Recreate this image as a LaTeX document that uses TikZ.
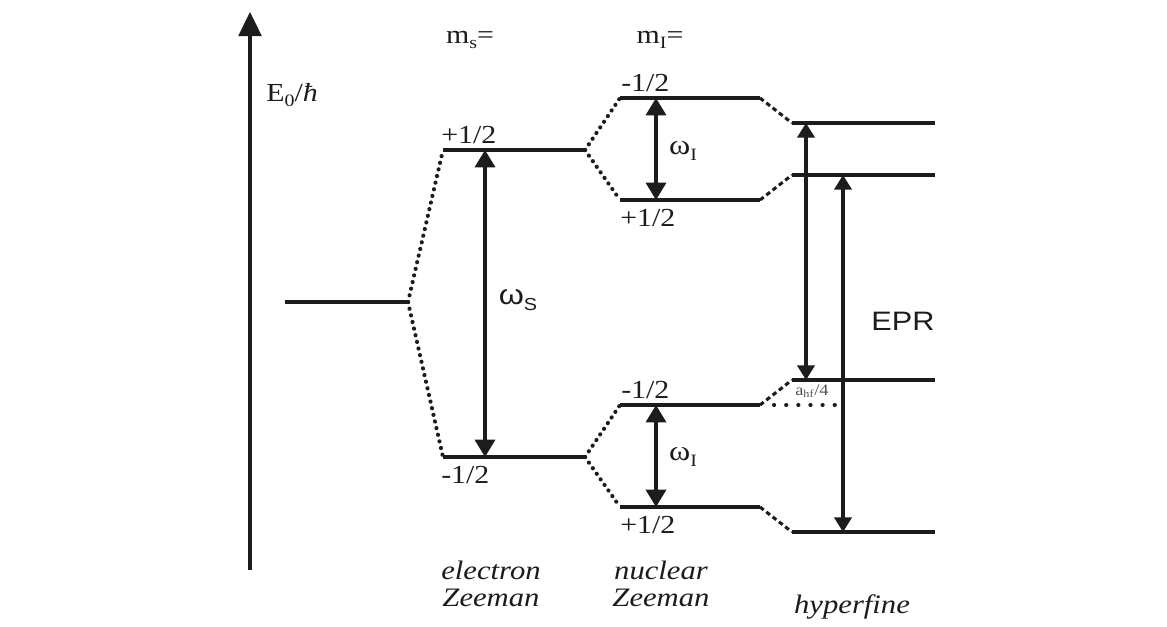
\documentclass[tikz,border=0pt]{standalone}
\usepackage{fontspec}
\setmainfont{Liberation Serif}[FakeStretch=1.15]
\setsansfont{Liberation Sans}[FakeStretch=1.15]
\usepackage{xcolor}
\usepackage{tikz}
\usetikzlibrary{positioning, arrows.meta, calc}
\definecolor{inkblack}{HTML}{1C1C1C}
\definecolor{inkgray}{HTML}{505050}
\newcommand{\lowsub}[1]{\raisebox{-0.45ex}{\fontsize{13}{13}\selectfont #1}}

\tikzset{
  lvl/.style={draw=inkblack, line width=2.6pt},
  hflvl/.style={draw=inkblack, line width=2.3pt},
  split/.style={draw=inkblack, line width=3.1pt, line cap=round, dash pattern=on 0.1pt off 5pt},
  hfsplit/.style={draw=inkblack, line width=2.3pt, dash pattern=on 3.5pt off 2.5pt},
  trans/.style={draw=inkblack, line width=2.6pt,
    {Triangle[length=13pt, width=15pt]}-{Triangle[length=13pt, width=15pt]}},
  hftrans/.style={draw=inkblack, line width=2.3pt,
    {Triangle[length=11pt, width=13pt]}-{Triangle[length=11pt, width=13pt]}},
  axisline/.style={draw=inkblack, line width=2.8pt, -{Triangle[length=18pt, width=17pt]}},
  lbl/.style={text=inkblack, inner sep=0pt, font=\fontsize{19.5}{22}\selectfont},
  stagecap/.style={text=inkblack, inner sep=0pt, align=center, font=\fontsize{20}{20.5}\selectfont\itshape},
}

\begin{document}
\begin{tikzpicture}[x=0.75pt, y=-0.75pt]
  \useasboundingbox (0,0) rectangle (1167,626);

  % energy axis
  \coordinate (axbot) at (250,570);
  \coordinate (axtop) at (250,12);
  \draw[axisline] (axbot) -- (axtop);
  \node[lbl, anchor=west] (elabel) at (266,95) {E\lowsub{0}/\textit{ħ}};

  % level end points
  \coordinate (z0) at (285,302);   \coordinate (z1) at (408,302);
  \coordinate (eu0) at (443,150);  \coordinate (eu1) at (585,150);
  \coordinate (ed0) at (443,457);  \coordinate (ed1) at (585,457);
  \coordinate (nuu0) at (620,98);  \coordinate (nuu1) at (760,98);
  \coordinate (nud0) at (620,200); \coordinate (nud1) at (760,200);
  \coordinate (ndu0) at (620,405); \coordinate (ndu1) at (760,405);
  \coordinate (ndd0) at (620,507); \coordinate (ndd1) at (760,507);
  \coordinate (hf10) at (792,123); \coordinate (hf11) at (935,123);
  \coordinate (hf20) at (792,175); \coordinate (hf21) at (935,175);
  \coordinate (hf30) at (792,380); \coordinate (hf31) at (935,380);
  \coordinate (hf40) at (792,532); \coordinate (hf41) at (935,532);

  % levels
  \draw[lvl] (z0) -- (z1);
  \draw[lvl] (eu0) -- (eu1);
  \draw[lvl] (ed0) -- (ed1);
  \draw[lvl] (nuu0) -- (nuu1);
  \draw[lvl] (nud0) -- (nud1);
  \draw[lvl] (ndu0) -- (ndu1);
  \draw[lvl] (ndd0) -- (ndd1);
  \draw[hflvl] (hf10) -- (hf11);
  \draw[hflvl] (hf20) -- (hf21);
  \draw[hflvl] (hf30) -- (hf31);
  \draw[hflvl] (hf40) -- (hf41);

  % splittings
  \draw[split] (z1) -- (eu0);
  \draw[split] (z1) -- (ed0);
  \draw[split] (eu1) -- (nuu0);
  \draw[split] (eu1) -- (nud0);
  \draw[split] (ed1) -- (ndu0);
  \draw[split] (ed1) -- (ndd0);
  \draw[hfsplit] (nuu1) -- (hf10);
  \draw[hfsplit] (nud1) -- (hf20);
  \draw[hfsplit] (ndu1) -- (hf30);
  \draw[hfsplit] (ndd1) -- (hf40);
  \draw[split, dash pattern=on 0.1pt off 9pt] ($(ndu1)+(14,0)$) -- ($(ndu1)+(76,0)$);

  % transitions
  \draw[trans] ($(eu0)+(42,0)$) -- ($(ed0)+(42,0)$);
  \draw[trans] ($(nuu0)+(36,0)$) -- ($(nud0)+(36,0)$);
  \draw[trans] ($(ndu0)+(36,0)$) -- ($(ndd0)+(36,0)$);
  \draw[hftrans] ($(hf10)+(14,0)$) -- ($(hf30)+(14,0)$);
  \draw[hftrans] ($(hf20)+(51,0)$) -- ($(hf40)+(51,0)$);

  % quantum numbers
  \node[lbl] (msq) at (470,40) {m\lowsub{s}=};
  \node[lbl] (miq) at (660,40) {m\lowsub{I}=};
  \node[lbl, anchor=south west] (eup) at ($(eu0)+(-2,-6)$) {+1/2};
  \node[lbl, anchor=north west] (edn) at ($(ed0)+(-2,9)$) {-1/2};
  \node[lbl, anchor=south west] (nuup) at ($(nuu0)+(1,-6)$) {-1/2};
  \node[lbl, anchor=north west] (nudn) at ($(nud0)+(0,9)$) {+1/2};
  \node[lbl, anchor=south west] (ndup) at ($(ndu0)+(1,-6)$) {-1/2};
  \node[lbl, anchor=north west] (nddn) at ($(ndd0)+(0,9)$) {+1/2};

  % frequencies
  \node[lbl, font=\fontsize{21}{22}\sffamily] (wslabel) at (518,300) {ω\lowsub{S}};
  \node[lbl, font=\fontsize{21}{22}\selectfont] (wi1label) at (683,151) {ω\lowsub{I}};
  \node[lbl, font=\fontsize{21}{22}\selectfont] (wi2label) at (683,457) {ω\lowsub{I}};
  \node[lbl, font=\fontsize{20}{22}\sffamily] (eprlabel) at (903,321) {EPR};
  \node[lbl, text=inkgray, font=\fontsize{12}{13}\selectfont] (ahflabel) at (812,391) {a\textsubscript{hf}/4};

  % stage captions
  \node[stagecap] (ezcap) at (491,584) {electron\\Zeeman};
  \node[stagecap] (nzcap) at (661,584) {nuclear\\Zeeman};
  \node[stagecap] (hfcap) at (852,607) {hyperfine};
\end{tikzpicture}
\end{document}
